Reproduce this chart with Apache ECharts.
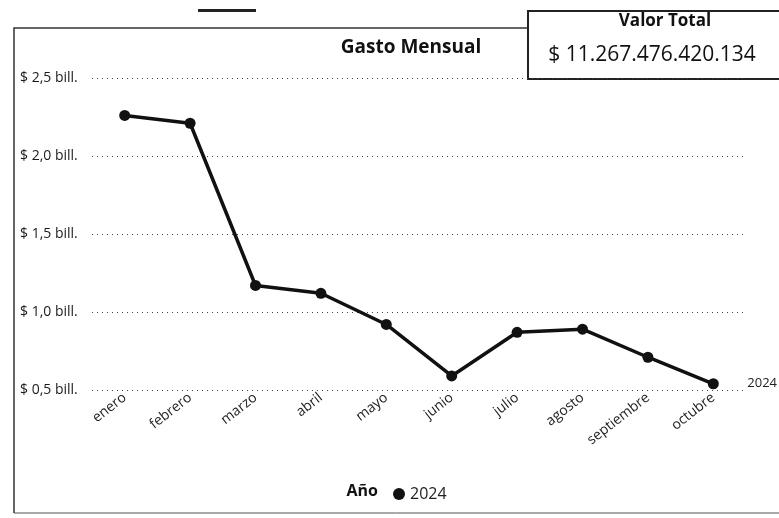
<!DOCTYPE html>
<html>
<head>
<meta charset="utf-8">
<script src="https://cdn.jsdelivr.net/npm/echarts@6/dist/echarts.min.js"></script>
<style>
html,body{margin:0;padding:0;background:#fff;}
#c{width:779px;height:518px;}
</style>
</head>
<body>
<div id="c"></div>
<script>
const months = ['enero','febrero','marzo','abril','mayo','junio','julio','agosto','septiembre','octubre'];
const gasto2024 = [2.26, 2.21, 1.17, 1.12, 0.92, 0.59, 0.87, 0.89, 0.71, 0.54];
const seriesName = '2024';
const titleText = 'Gasto Mensual';
const kpiLabel = 'Valor Total';
const kpiValue = '$ 11.267.476.420.134';
const legendTitle = 'Año';

const FONT = '"Open Sans", "Noto Sans", sans-serif';
const chart = echarts.init(document.getElementById('c'), null, {renderer: 'canvas'});
chart.setOption({
  backgroundColor: '#fff',
  animation: false,
  title: {
    text: titleText, left: 406, top: 33, textAlign: 'center',
    textStyle: {fontFamily: FONT, fontSize: 19, fontWeight: 'bold', color: '#111'}
  },
  grid: {left: 92, right: 33, top: 78, bottom: 128, containLabel: false},
  legend: {
    data: [seriesName], left: 388, top: 481, icon: 'circle', itemWidth: 12, itemHeight: 12, itemGap: 3,
    textStyle: {fontFamily: FONT, fontSize: 16, color: '#222'}
  },
  xAxis: {
    type: 'category', data: months, boundaryGap: true,
    axisLine: {show: false}, axisTick: {show: false},
    axisLabel: {rotate: 38, fontFamily: FONT, fontSize: 14, color: '#222', margin: 6, interval: 0}
  },
  yAxis: {
    type: 'value', min: 0.5, max: 2.5, interval: 0.5,
    axisLine: {show: false}, axisTick: {show: false},
    splitLine: {lineStyle: {type: [1, 4], color: '#444', width: 1}},
    axisLabel: {
      fontFamily: FONT, fontSize: 14, color: '#1a1a1a', align: 'left', margin: 72,
      formatter: v => '$ ' + v.toFixed(1).replace('.', ',') + ' bill.'
    }
  },
  series: [{
    name: seriesName, type: 'line', data: gasto2024,
    symbol: 'circle', symbolSize: 11,
    lineStyle: {color: '#111', width: 3.5},
    itemStyle: {color: '#111'},
    endLabel: {show: true, formatter: '{a}', offset: [26, 0], fontFamily: FONT, fontSize: 13, color: '#222'}
  }],
  graphic: [
    {type: 'rect', shape: {x: 198, y: 9, width: 58, height: 3}, style: {fill: '#222'}},
    {type: 'polyline', shape: {points: [[14, 513], [14, 28], [528, 28]]}, style: {stroke: '#333', lineWidth: 1.5, fill: null}},
    {type: 'line', shape: {x1: 14, y1: 513, x2: 779, y2: 513}, style: {stroke: '#555', lineWidth: 1}},
    {type: 'rect', shape: {x: 528, y: 11, width: 260, height: 68}, style: {stroke: '#222', lineWidth: 2, fill: '#fff'}},
    {type: 'text', x: 665, y: 21, style: {text: kpiLabel, font: 'bold 17px ' + FONT, fill: '#111', textAlign: 'center', textVerticalAlign: 'middle'}},
    {type: 'text', x: 652, y: 55, style: {text: kpiValue, font: '21px ' + FONT, fill: '#111', textAlign: 'center', textVerticalAlign: 'middle'}},
    {type: 'text', x: 378, y: 491, style: {text: legendTitle, font: 'bold 16px ' + FONT, fill: '#111', textAlign: 'right', textVerticalAlign: 'middle'}}
  ]
});
</script>
</body>
</html>
